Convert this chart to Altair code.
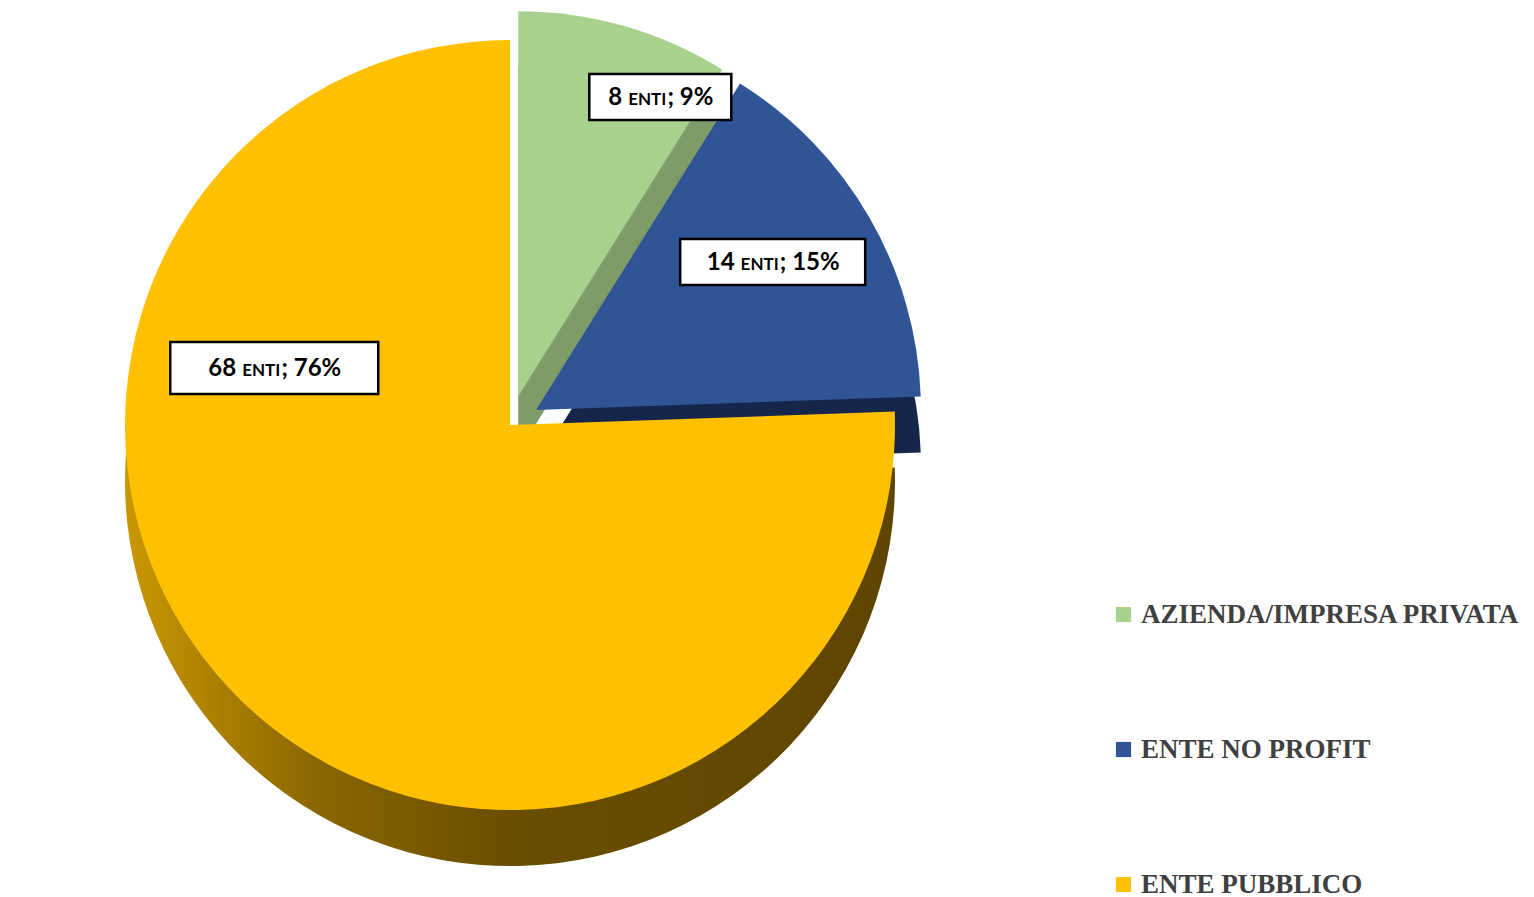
import math
import altair as alt
import pandas as pd

# ---- data ----
categories = ["AZIENDA/IMPRESA PRIVATA", "ENTE NO PROFIT", "ENTE PUBBLICO"]
counts = [8, 14, 68]
percents = [9, 15, 76]

# ---- styling / layout ----
top_colors = ["#A9D18E", "#2F5597", "#FFC000"]
side_colors = ["#7E9B68", "#16264A", "#6E5200"]
W, H = 1534, 897
CX, CY, R = 510, 425, 385
DEPTH = 56
explode = [30, 30, 0]
label_angle = [25.4, 58, 283.6]
label_rfrac = [0.86, 0.725, 0.63]
box_w = [142, 185, 208]
box_h = [46, 46, 52]
NUM_SIZE, SMALL_SIZE = 24, 17
LABEL_FONT = "Lato"

total = sum(counts)
rows = []
cum = 0
for cat, c, p, ex, la, rf, bw, bh in zip(categories, counts, percents, explode,
                                          label_angle, label_rfrac, box_w, box_h):
    start, end = cum, cum + c
    cum = end
    mid = (start + end) / 2 / total * 2 * math.pi
    cx = CX + ex * math.sin(mid)
    cy = CY - ex * math.cos(mid)
    a = math.radians(la)
    lx = cx + rf * R * math.sin(a)
    ly = cy - rf * R * math.cos(a)
    num = str(c)
    rest = f"; {p}%"
    w_num = 0.55 * NUM_SIZE * len(num)
    w_enti = 2.25 * SMALL_SIZE
    w_rest = (0.26 + 0.22 + 0.55 * len(str(p)) + 0.85) * NUM_SIZE
    gap = 0.25 * NUM_SIZE
    tot = w_num + gap + w_enti + w_rest
    x0 = lx - tot / 2
    rows.append(dict(cat=cat, count=c, start=start, end=end, cx=cx, cy=cy,
                     cyd=cy + DEPTH, num=num, rest=rest,
                     xnum=x0 + w_num, xenti=x0 + w_num + gap,
                     xrest=x0 + w_num + gap + w_enti + 1,
                     ty=ly + 8, bx=lx - bw / 2, bx2=lx + bw / 2,
                     by=ly - bh / 2, by2=ly + bh / 2))
df = pd.DataFrame(rows)

theta_scale = alt.Scale(domain=[0, total], range=[0, 2 * math.pi])
xs = alt.X("cx:Q", scale=None, axis=None)
yd = alt.Y("cyd:Q", scale=None, axis=None)

base = alt.Chart(df)


def side_layer(cat, fill):
    return base.transform_filter(alt.datum.cat == cat).mark_arc(radius=R, fill=fill).encode(
        theta=alt.Theta("start:Q", scale=theta_scale), theta2="end:Q", x=xs, y=yd)


yellow_grad = alt.LinearGradient(
    gradient="linear", x1=0, x2=1, y1=0, y2=0,
    stops=[alt.GradientStop(offset=0, color="#C99700"),
           alt.GradientStop(offset=0.25, color="#8A6600"),
           alt.GradientStop(offset=0.5, color="#6A4E00"),
           alt.GradientStop(offset=1, color="#5E4500")],
)
sides = [side_layer(categories[2], yellow_grad),
         side_layer(categories[0], side_colors[0]),
         side_layer(categories[1], side_colors[1])]

top = base.mark_arc(radius=R).encode(
    theta=alt.Theta("start:Q", scale=theta_scale),
    theta2="end:Q",
    x=xs,
    y=alt.Y("cy:Q", scale=None, axis=None),
    color=alt.Color(
        "cat:N",
        scale=alt.Scale(domain=categories, range=top_colors),
        legend=alt.Legend(
            title=None, orient="none", legendX=1110, legendY=601, padding=0,
            symbolType="square", symbolSize=230, symbolStrokeWidth=0,
            labelFont="Liberation Serif", labelFontWeight="bold",
            labelFontSize=27, labelColor="#404040", labelLimit=600,
            rowPadding=107, labelOffset=4,
        ),
    ),
)

boxes = base.mark_rect(fill="white", stroke="black", strokeWidth=2.5).encode(
    x=alt.X("bx:Q", scale=None, axis=None), x2="bx2:Q",
    y=alt.Y("by:Q", scale=None, axis=None), y2="by2:Q",
)

ty = alt.Y("ty:Q", scale=None, axis=None)
t_num = base.mark_text(font=LABEL_FONT, fontWeight="bold", fontSize=NUM_SIZE,
                       align="right", baseline="alphabetic", color="black").encode(
    x=alt.X("xnum:Q", scale=None, axis=None), y=ty, text="num:N")
t_enti = base.mark_text(font=LABEL_FONT, fontWeight="bold", fontSize=SMALL_SIZE,
                        align="left", baseline="alphabetic", color="black").encode(
    x=alt.X("xenti:Q", scale=None, axis=None), y=ty, text=alt.value("ENTI"))
t_rest = base.mark_text(font=LABEL_FONT, fontWeight="bold", fontSize=NUM_SIZE,
                        align="left", baseline="alphabetic", color="black").encode(
    x=alt.X("xrest:Q", scale=None, axis=None), y=ty, text="rest:N")

chart = alt.layer(*sides, top, boxes, t_num, t_enti, t_rest).properties(
    width=W, height=H, autosize=alt.AutoSizeParams(type="none"), padding=0,
    background="white",
).configure_view(stroke=None)

chart.save("out.html", embed_options={"renderer": "svg", "actions": False})
